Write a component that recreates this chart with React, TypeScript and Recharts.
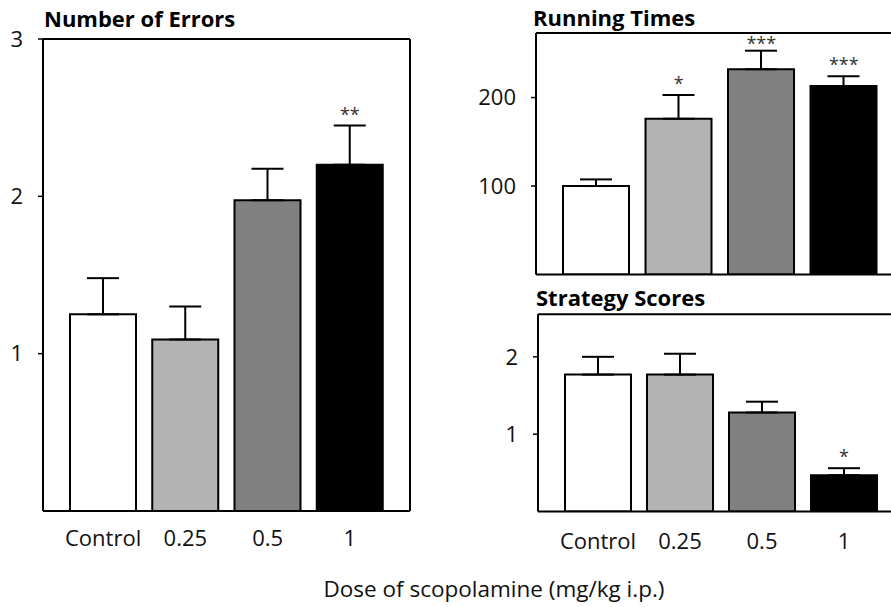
import React from 'react';
import { ComposedChart, Bar, Cell, XAxis, YAxis, ErrorBar, Line } from 'recharts';

// Dose groups and bar shading (white → light grey → dark grey → black)
const doses = ['Control', '0.25', '0.5', '1'];
const barFills = ['#ffffff', '#b3b3b3', '#808080', '#000000'];

// Number of errors (mean ± SEM)
const errorsMean = [1.25, 1.09, 1.975, 2.2];
const errorsSem = [0.23, 0.21, 0.2, 0.25];
const errorsSig = ['', '', '', '**'];
const errorsTicks = [1, 2, 3];

// Running times (mean ± SEM)
const runningMean = [100, 176, 232, 213];
const runningSem = [7.5, 27, 21, 11];
const runningSig = ['', '*', '***', '***'];
const runningTicks = [100, 200];

// Strategy scores (mean ± SEM)
const strategyMean = [1.77, 1.77, 1.28, 0.47];
const strategySem = [0.23, 0.27, 0.14, 0.09];
const strategySig = ['', '', '', '*'];
const strategyTicks = [1, 2];

const FONT = "'Open Sans', sans-serif";
const PAD = { left: 19, right: 19 };

type Row = { dose: string; mean: number; err: [number, number]; cap: number; sig: string };

const buildRows = (mean: number[], sem: number[], sig: string[]): Row[] =>
  doses.map((dose, i) => ({
    dose,
    mean: mean[i],
    err: [0, sem[i]],
    cap: mean[i] + sem[i],
    sig: sig[i],
  }));

// Significance asterisks above the error-bar caps, kept inside the frame
const makeStar = (minY: number) => (props: any) => {
  const { cx, cy, payload, index } = props;
  if (!payload || !payload.sig) return <g key={`s-${index}`} />;
  return (
    <text
      key={`s-${index}`}
      x={cx}
      y={Math.max(cy - 5, minY)}
      textAnchor="middle"
      fontFamily={FONT}
      fontSize={18}
      fill="#333"
    >
      {payload.sig}
    </text>
  );
};

type PanelProps = {
  rows: Row[];
  width: number;
  height: number;
  marginTop: number;
  marginRight: number;
  yAxisWidth: number;
  xAxisHeight: number;
  xTickMargin: number;
  domain: [number, number];
  ticks: number[];
  showCategories: boolean;
};

const axisLine = { stroke: '#000', strokeWidth: 2 };
const tickStyle = { fontFamily: FONT, fontSize: 22, fill: '#111' };

const Panel = ({
  rows,
  width,
  height,
  marginTop,
  marginRight,
  yAxisWidth,
  xAxisHeight,
  xTickMargin,
  domain,
  ticks,
  showCategories,
}: PanelProps) => (
  <ComposedChart
    width={width}
    height={height}
    data={rows}
    margin={{ top: marginTop - 1, right: marginRight - 1, bottom: 0, left: 0 }}
  >
    <XAxis
      dataKey="dose"
      interval={0}
      padding={PAD}
      axisLine={axisLine}
      tickLine={false}
      tick={showCategories ? tickStyle : false}
      tickMargin={xTickMargin}
      height={xAxisHeight}
    />
    {/* top edge of the frame; also carries the significance markers */}
    <XAxis
      xAxisId="frame"
      dataKey="dose"
      orientation="top"
      padding={PAD}
      axisLine={axisLine}
      tickLine={false}
      tick={false}
      height={1}
    />
    <YAxis
      type="number"
      domain={domain}
      ticks={ticks}
      allowDataOverflow
      width={yAxisWidth}
      axisLine={axisLine}
      tickLine={{ stroke: '#000', strokeWidth: 1.5 }}
      tickSize={5}
      tickMargin={15}
      tick={tickStyle}
    />
    {/* right edge of the frame */}
    <YAxis
      yAxisId="frame"
      orientation="right"
      type="number"
      domain={domain}
      allowDataOverflow
      axisLine={axisLine}
      tickLine={false}
      tick={false}
      width={1}
    />
    <Bar dataKey="mean" barSize={66} stroke="#000" strokeWidth={2} isAnimationActive={false}>
      {rows.map((r, i) => (
        <Cell key={r.dose} fill={barFills[i]} />
      ))}
      <ErrorBar dataKey="err" direction="y" width={16} stroke="#000" strokeWidth={2} />
    </Bar>
    <Line
      xAxisId="frame"
      yAxisId="frame"
      dataKey="cap"
      stroke="none"
      dot={makeStar(marginTop + 17)}
      activeDot={false}
      legendType="none"
      isAnimationActive={false}
    />
  </ComposedChart>
);

const titleStyle: React.CSSProperties = {
  position: 'absolute',
  fontFamily: FONT,
  fontWeight: 700,
  fontSize: 22,
  lineHeight: '22px',
  color: '#000',
  whiteSpace: 'nowrap',
};

export default function App() {
  const errorsRows = buildRows(errorsMean, errorsSem, errorsSig);
  const runningRows = buildRows(runningMean, runningSem, runningSig);
  const strategyRows = buildRows(strategyMean, strategySem, strategySig);

  return (
    <div
      style={{
        position: 'fixed',
        left: 0,
        top: 0,
        width: 891,
        height: 607,
        overflow: 'hidden',
        background: '#fff',
      }}
    >
      <div style={{ ...titleStyle, left: 44, top: 7 }}>Number of Errors</div>
      <div style={{ ...titleStyle, left: 533, top: 6 }}>Running Times</div>
      <div style={{ ...titleStyle, left: 536, top: 286 }}>Strategy Scores</div>

      <div style={{ position: 'absolute', left: 0, top: 0 }}>
        <Panel
          rows={errorsRows}
          width={420}
          height={560}
          marginTop={39}
          marginRight={10}
          yAxisWidth={43}
          xAxisHeight={49}
          xTickMargin={13}
          domain={[0, 3]}
          ticks={errorsTicks}
          showCategories
        />
      </div>

      <div style={{ position: 'absolute', left: 456, top: 0 }}>
        <Panel
          rows={runningRows}
          width={458}
          height={280}
          marginTop={33}
          marginRight={10}
          yAxisWidth={80}
          xAxisHeight={5.5}
          xTickMargin={16}
          domain={[0, 273]}
          ticks={runningTicks}
          showCategories={false}
        />
      </div>

      <div style={{ position: 'absolute', left: 456, top: 290 }}>
        <Panel
          rows={strategyRows}
          width={458}
          height={270}
          marginTop={24.3}
          marginRight={10}
          yAxisWidth={82}
          xAxisHeight={48.5}
          xTickMargin={16}
          domain={[0, 2.55]}
          ticks={strategyTicks}
          showCategories
        />
      </div>

      <div
        style={{
          position: 'absolute',
          left: 294,
          top: 576,
          width: 400,
          textAlign: 'center',
          fontFamily: FONT,
          fontSize: 22.5,
          lineHeight: '26px',
          color: '#111',
        }}
      >
        Dose of scopolamine (mg/kg i.p.)
      </div>
    </div>
  );
}
